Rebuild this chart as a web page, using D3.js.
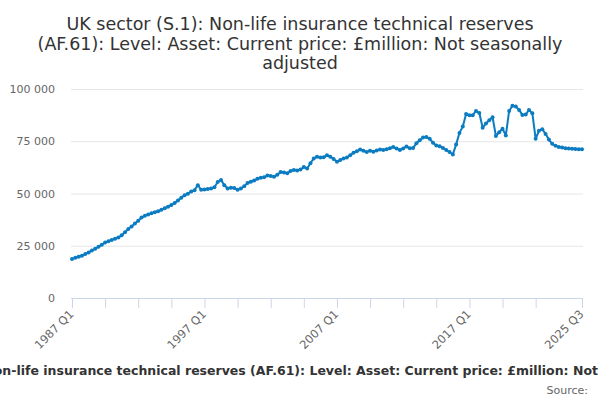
<!DOCTYPE html>
<html>
<head>
<meta charset="utf-8">
<script src="https://cdn.jsdelivr.net/npm/d3@7"></script>
<style>
  body { margin: 0; background: #fff; }
  text { font-family: "DejaVu Sans", sans-serif; }
</style>
</head>
<body>
<script>
const wid = 600, hei = 400;

// quarterly series, 1987 Q1 .. 2025 Q3 (£ million)
const startYear = 1987;
const reserves = [
    18700, 19200, 19700, 20200,   // 1987
    21000, 21800, 22700, 23600,   // 1988
    24500, 25500, 26500, 27200,   // 1989
    27800, 28300, 28900, 30000,   // 1990
    31500, 33000, 34200, 35600,   // 1991
    37000, 38500, 39300, 40000,   // 1992
    40600, 41000, 41500, 42200,   // 1993
    43000, 43700, 44500, 45500,   // 1994
    46700, 48000, 49200, 49900,   // 1995
    51000, 51600, 54000, 51800,   // 1996
    51900, 52200, 52400, 53000,   // 1997
    55500, 56400, 54000, 52400,   // 1998
    52800, 52600, 51800, 52400,   // 1999
    53500, 55000, 55600, 56200,   // 2000
    57000, 57500, 57800, 58600,   // 2001
    58400, 58000, 59000, 60300,   // 2002
    60000, 59700, 60800, 61300,   // 2003
    61000, 61500, 62700, 62000,   // 2004
    64500, 66800, 67600, 67200,   // 2005
    67400, 68300, 67600, 66500,   // 2006
    65200, 66000, 66800, 67200,   // 2007
    68300, 69500, 70200, 71000,   // 2008
    70400, 69800, 70500, 70000,   // 2009
    70600, 71000, 70800, 71200,   // 2010
    71700, 72300, 71500, 70800,   // 2011
    71500, 72500, 71600, 71800,   // 2012
    74000, 75500, 76800, 77000,   // 2013
    76200, 74300, 73000, 72600,   // 2014
    71800, 70800, 69800, 68700,   // 2015
    73500, 79000, 82000, 88000,   // 2016
    87500, 87500, 89500, 88500,   // 2017
    81500, 83500, 85000, 86500,   // 2018
    77500, 79300, 81000, 77800,   // 2019
    89500, 92000, 91600, 90000,   // 2020
    87600, 87800, 90000, 88400,   // 2021
    76200, 80000, 80800, 78500,   // 2022
    75800, 73800, 72800, 72300,   // 2023
    72000, 71700, 71500, 71400,   // 2024
    71300, 71200, 71200           // 2025
];
const quarters = reserves.map((v, i) =>
    (startYear + Math.floor(i / 4)) + ' Q' + (i % 4 + 1));

const yTicks = [0, 25000, 50000, 75000, 100000];
const xTickLabels = ['1987 Q1', '1997 Q1', '2007 Q1', '2017 Q1', '2025 Q3'];
const xTickMarks = quarters.filter((q, i) => i % 10 == 0 && i <= 140)
    .concat([quarters[quarters.length - 1]]);

const titleLines = [
    'UK sector (S.1): Non-life insurance technical reserves',
    '(AF.61): Level: Asset: Current price: £million: Not seasonally',
    'adjusted'
];
const legendText = 'UK sector (S.1): Non-life insurance technical reserves (AF.61): Level: Asset: Current price: £million: Not seasonally adjusted';

const plotL = 72, plotR = 582, plotT = 89, plotB = 298;

let svg = d3.select('body').append('svg')
    .attr('width', wid)
    .attr('height', hei);

let x = d3.scalePoint().domain(quarters).range([plotL, plotR]);
let y = d3.scaleLinear().domain([0, 100000]).range([plotB, plotT]);

// title
svg.append('text')
    .attr('text-anchor', 'middle')
    .attr('font-size', 17.5)
    .attr('fill', '#333')
    .selectAll('tspan')
    .data(titleLines)
    .enter()
    .append('tspan')
    .attr('x', wid / 2)
    .attr('y', (d, i) => 30 + i * 19.5)
    .text(d => d);

// gridlines + y labels
let yAxis = svg.append('g')
    .attr('transform', `translate(${plotL - 1},0)`)
    .call(d3.axisLeft(y).tickValues(yTicks)
        .tickSize(-(plotR - plotL + 2))
        .tickFormat(d => d3.format(',')(d).replace(/,/g, ' ')));
yAxis.select('.domain').remove();
yAxis.selectAll('.tick line')
    .attr('stroke', '#e6e6e6')
    .attr('stroke-width', 1)
    .attr('opacity', d => d == 0 ? 0 : 1);
yAxis.selectAll('.tick text')
    .attr('x', -16)
    .attr('fill', '#666')
    .attr('font-size', 11)
    .attr('font-family', '"DejaVu Sans", sans-serif');

// x axis
let xAxis = svg.append('g')
    .attr('transform', `translate(0,${plotB})`)
    .call(d3.axisBottom(x).tickValues(xTickMarks).tickSize(10)
        .tickFormat(d => xTickLabels.includes(d) ? d : ''));
xAxis.select('.domain')
    .attr('stroke', '#ccd6eb')
    .attr('d', `M${plotL - 1},0.5H${plotR + 1}`);
xAxis.selectAll('.tick line').attr('stroke', '#ccd6eb');
xAxis.selectAll('.tick text')
    .attr('fill', '#666')
    .attr('font-size', 11.5)
    .attr('font-family', '"DejaVu Sans", sans-serif')
    .attr('text-anchor', 'end')
    .attr('y', 0)
    .attr('dy', '0.35em')
    .attr('transform', 'translate(-1,14) rotate(-45)');

// line
const blue = '#0b7cc1';
svg.append('path')
    .datum(reserves)
    .attr('fill', 'none')
    .attr('stroke', blue)
    .attr('stroke-width', 2)
    .attr('stroke-linejoin', 'round')
    .attr('d', d3.line().x((d, i) => x(quarters[i])).y(d => y(d)));

svg.selectAll('circle.pt')
    .data(reserves)
    .enter()
    .append('circle')
    .attr('class', 'pt')
    .attr('cx', (d, i) => x(quarters[i]))
    .attr('cy', d => y(d))
    .attr('r', 2)
    .attr('fill', blue);

// legend (overflows the page like the original)
svg.append('text')
    .attr('x', 305)
    .attr('y', 375)
    .attr('text-anchor', 'middle')
    .attr('font-size', 12.5)
    .attr('font-weight', 'bold')
    .attr('fill', '#333')
    .text(legendText);

svg.append('text')
    .attr('x', 588)
    .attr('y', 394)
    .attr('text-anchor', 'end')
    .attr('font-size', 11)
    .attr('fill', '#666')
    .text('Source:');
</script>
</body>
</html>
